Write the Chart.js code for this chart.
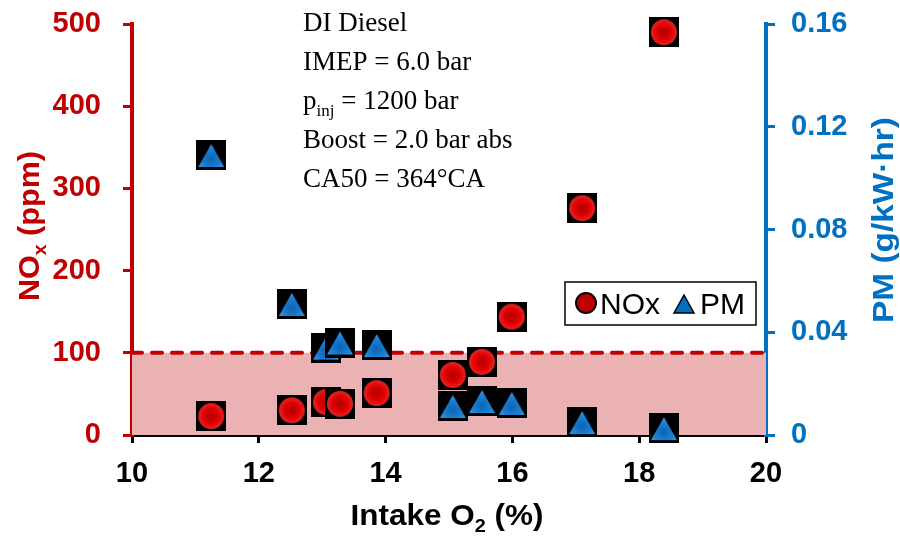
<!DOCTYPE html>
<html>
<head>
<meta charset="utf-8">
<script src="https://cdn.jsdelivr.net/npm/chart.js@4.4.1/dist/chart.umd.min.js"></script>
<style>
  html, body { margin: 0; padding: 0; background: #fff; }
  #wrap { width: 900px; height: 536px; }
</style>
</head>
<body>
<div id="wrap"><canvas id="chart" width="900" height="536"></canvas></div>
<script>
// ---- Data ----
var intakeO2 = [11.25, 12.52, 13.06, 13.28, 13.86, 15.06, 15.52, 15.99, 17.10, 18.39];
var noxPpm = [23, 30, 40, 38, 51, 73, 89, 144, 276, 490];
var pmGkwh = [0.109, 0.051, 0.034, 0.036, 0.035, 0.0113, 0.0132, 0.0125, 0.005, 0.0027];
var noxLimit = 100;
var xTicks = [10, 12, 14, 16, 18, 20];
var noxTicks = [0, 100, 200, 300, 400, 500];
var pmTicks = [0, 0.04, 0.08, 0.12, 0.16];
var pmTickLabels = ['0', '0.04', '0.08', '0.12', '0.16'];
var noteLines = ['DI Diesel', 'IMEP = 6.0 bar', 'p|inj| = 1200 bar', 'Boost = 2.0 bar abs', 'CA50 = 364\u00B0CA'];

// ---- Colors / fonts ----
var RED = '#c00000';
var BLUE = '#0070c0';
var SHADE = '#eab2b2';
var SANS = "'Liberation Sans', Arial, sans-serif";
var SERIF = "'Liberation Serif', 'Times New Roman', serif";

// ---- Marker images (black square with symbol) ----
function makeMarker(kind) {
  var c = document.createElement('canvas');
  c.width = 30; c.height = 30;
  var g = c.getContext('2d');
  g.fillStyle = '#000';
  g.fillRect(0, 0, 30, 30);
  if (kind === 'circle') {
    var rg = g.createRadialGradient(15, 15, 0, 15, 15, 13);
    rg.addColorStop(0, '#b00000');
    rg.addColorStop(0.55, '#dc0000');
    rg.addColorStop(0.9, '#ec1a1a');
    rg.addColorStop(1, '#b83030');
    g.fillStyle = rg;
    g.beginPath();
    g.arc(15, 15, 13, 0, Math.PI * 2);
    g.fill();
  } else {
    var tg = g.createRadialGradient(15, 19, 0, 15, 19, 13);
    tg.addColorStop(0, '#0e62b0');
    tg.addColorStop(0.7, '#1a80d6');
    tg.addColorStop(1, '#3a8ed0');
    g.fillStyle = tg;
    g.beginPath();
    g.moveTo(15, 4);
    g.lineTo(28, 27);
    g.lineTo(2, 27);
    g.closePath();
    g.fill();
  }
  return c;
}

function pairs(xs, ys) {
  return xs.map(function (x, i) { return { x: x, y: ys[i] }; });
}

// fixed scale sizes, no automatic label padding
function fixSize(w, h) {
  return function (s) {
    if (w) s.width = w;
    if (h) s.height = h;
    s.paddingTop = s.paddingBottom = s.paddingLeft = s.paddingRight = 0;
  };
}

// ---- Text with subscript helpers ----
function measureParts(ctx, parts, size, family, weight) {
  var total = 0;
  parts.forEach(function (p) {
    ctx.font = weight + ' ' + (p[1] ? Math.round(size * 0.62) : size) + 'px ' + family;
    total += ctx.measureText(p[0]).width;
  });
  return total;
}
function paintParts(ctx, parts, x, y, size, family, weight, subDrop) {
  parts.forEach(function (p) {
    ctx.font = weight + ' ' + (p[1] ? Math.round(size * 0.62) : size) + 'px ' + family;
    ctx.fillText(p[0], x, p[1] ? y + subDrop : y);
    x += ctx.measureText(p[0]).width;
  });
}
// centred text (optionally rotated) stretched to a given length
function paintTitle(ctx, parts, cx, cy, size, len, angle, color) {
  var w = measureParts(ctx, parts, size, SANS, 'bold');
  ctx.save();
  ctx.fillStyle = color;
  ctx.translate(cx, cy);
  ctx.rotate(angle);
  ctx.scale(len / w, 1);
  paintParts(ctx, parts, -w / 2, size * 0.36, size, SANS, 'bold', 7);
  ctx.restore();
}

// ---- Overlay plugin: titles, note, legend ----
var overlay = {
  id: 'overlay',
  afterDraw: function (chart) {
    var ctx = chart.ctx;
    var a = chart.chartArea;
    ctx.save();
    ctx.textBaseline = 'alphabetic';
    ctx.textAlign = 'left';

    paintTitle(ctx, [['NO', false], ['x', true], [' (ppm)', false]], 28, 226, 30, 150, -Math.PI / 2, RED);
    paintTitle(ctx, [['PM (g/kW\u00B7hr)', false]], 882, 220, 30, 206, -Math.PI / 2, BLUE);
    paintTitle(ctx, [['Intake O', false], ['2', true], [' (%)', false]], 447, 514, 30, 193, 0, '#000');

    // note block
    ctx.fillStyle = '#000';
    noteLines.forEach(function (line, i) {
      var parts = line.split('|').map(function (b, j) { return [b, j % 2 === 1]; });
      paintParts(ctx, parts, 303, 31 + i * 39, 27, SERIF, 'normal', 7);
    });

    // legend
    var lx = a.left + 433, ly = 282;
    ctx.fillStyle = '#fff';
    ctx.fillRect(lx, ly, 191, 43);
    ctx.strokeStyle = '#000';
    ctx.lineWidth = 1.5;
    ctx.strokeRect(lx, ly, 191, 43);
    ctx.fillStyle = RED;
    ctx.lineWidth = 2;
    ctx.beginPath();
    ctx.arc(lx + 21, ly + 21, 10, 0, Math.PI * 2);
    ctx.fill();
    ctx.stroke();
    ctx.font = '30px ' + SANS;
    ctx.fillStyle = '#000';
    ctx.fillText('NOx', lx + 35, ly + 32);
    ctx.fillStyle = BLUE;
    ctx.lineWidth = 1.5;
    ctx.beginPath();
    ctx.moveTo(lx + 119, ly + 13);
    ctx.lineTo(lx + 129, ly + 31);
    ctx.lineTo(lx + 109, ly + 31);
    ctx.closePath();
    ctx.fill();
    ctx.stroke();
    ctx.fillStyle = '#000';
    ctx.fillText('PM', lx + 135, ly + 32);

    ctx.restore();
  }
};

var circleImg = makeMarker('circle');
var triImg = makeMarker('triangle');

new Chart(document.getElementById('chart').getContext('2d'), {
  type: 'scatter',
  data: {
    datasets: [
      {
        label: 'PM',
        data: pairs(intakeO2, pmGkwh),
        yAxisID: 'y2',
        pointStyle: triImg,
        pointRadius: 15,
        clip: false,
        order: 0
      },
      {
        label: 'NOx',
        data: pairs(intakeO2, noxPpm),
        yAxisID: 'y',
        pointStyle: circleImg,
        pointRadius: 15,
        clip: false,
        order: 1
      },
      {
        type: 'line',
        label: 'limit',
        data: pairs([xTicks[0], xTicks[xTicks.length - 1]], [noxLimit, noxLimit]),
        yAxisID: 'y',
        borderColor: RED,
        borderWidth: 4,
        borderDash: [10, 10],
        borderCapStyle: 'round',
        backgroundColor: SHADE,
        fill: 'origin',
        pointRadius: 0,
        order: 2
      }
    ]
  },
  options: {
    responsive: false,
    animation: false,
    events: [],
    layout: { autoPadding: false, padding: { top: 24, left: 0, right: 0, bottom: 0 } },
    plugins: {
      legend: { display: false },
      tooltip: { enabled: false }
    },
    scales: {
      x: {
        type: 'linear',
        min: xTicks[0],
        max: xTicks[xTicks.length - 1],
        afterFit: fixSize(0, 101),
        afterBuildTicks: function (s) { s.ticks = xTicks.map(function (v) { return { value: v }; }); },
        grid: { drawOnChartArea: false, drawTicks: true, tickLength: 8, color: '#000', lineWidth: 3 },
        border: { display: true, color: '#000', width: 4 },
        ticks: { color: '#000', padding: 14, font: { family: SANS, size: 29, weight: 'bold' }, maxRotation: 0 }
      },
      y: {
        position: 'left',
        min: noxTicks[0],
        max: noxTicks[noxTicks.length - 1],
        afterFit: fixSize(132, 0),
        afterBuildTicks: function (s) { s.ticks = noxTicks.map(function (v) { return { value: v }; }); },
        grid: { drawOnChartArea: false, drawTicks: true, tickLength: 9, color: RED, lineWidth: 3 },
        border: { display: true, color: RED, width: 4 },
        ticks: { color: RED, padding: 22, font: { family: SANS, size: 29, weight: 'bold' } }
      },
      y2: {
        position: 'right',
        min: pmTicks[0],
        max: pmTicks[pmTicks.length - 1],
        afterFit: fixSize(134, 0),
        afterBuildTicks: function (s) { s.ticks = pmTicks.map(function (v) { return { value: v }; }); },
        grid: { drawOnChartArea: false, drawTicks: true, tickLength: 9, color: BLUE, lineWidth: 3 },
        border: { display: true, color: BLUE, width: 4 },
        ticks: {
          color: BLUE, padding: 16, font: { family: SANS, size: 29, weight: 'bold' },
          callback: function (v, i) { return pmTickLabels[i]; }
        }
      }
    }
  },
  plugins: [overlay]
});
</script>
</body>
</html>
